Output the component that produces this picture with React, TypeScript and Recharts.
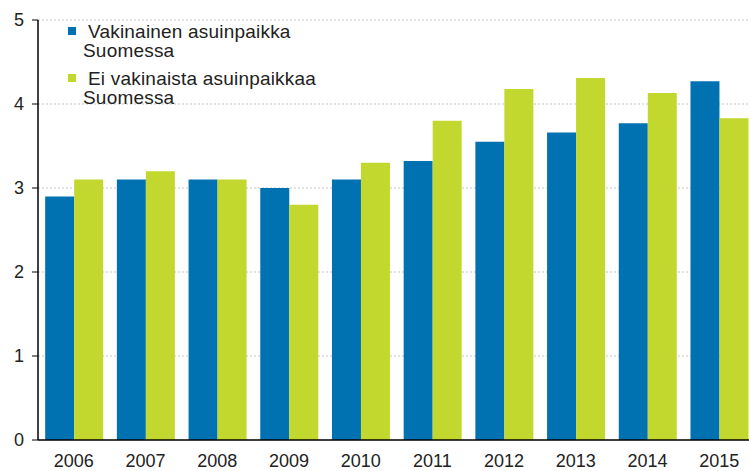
import React from "react";
import { BarChart, Bar, XAxis, YAxis, CartesianGrid } from "recharts";

const years = ["2006", "2007", "2008", "2009", "2010", "2011", "2012", "2013", "2014", "2015"];
const permanent = [2.9, 3.1, 3.1, 3.0, 3.1, 3.32, 3.55, 3.66, 3.77, 4.27];
const nonPermanent = [3.1, 3.2, 3.1, 2.8, 3.3, 3.8, 4.18, 4.31, 4.13, 3.83];
const yTicks = [0, 1, 2, 3, 4, 5];
const seriesNames = ["Vakinainen asuinpaikka\nSuomessa", "Ei vakinaista asuinpaikkaa\nSuomessa"];
const colors = ["#0072b1", "#c2d82f"];

const data = years.map((y, i) => ({ year: y, a: permanent[i], b: nonPermanent[i] }));

const FONT = "'Liberation Sans', Arial, sans-serif";

const LegendBox = () => (
  <div
    style={{
      position: "absolute",
      left: 68,
      top: 22,
      fontFamily: FONT,
      fontSize: 19,
      letterSpacing: 0.2,
      color: "#222",
      lineHeight: "19px",
      pointerEvents: "none",
    }}
  >
    {seriesNames.map((n, i) => (
      <div key={i} style={{ position: "relative", paddingLeft: 20, marginBottom: i === 0 ? 9 : 0 }}>
        <span
          style={{
            position: "absolute",
            left: 0,
            top: 5,
            width: 8,
            height: 8,
            background: colors[i],
          }}
        />
        {n.split("\n").map((line, j) => (
          <div key={j} style={{ marginLeft: j === 0 ? 0 : -5 }}>{line}</div>
        ))}
      </div>
    ))}
  </div>
);

export default function App() {
  return (
    <div style={{ position: "absolute", left: 0, top: 0, width: 749, height: 471, overflow: "hidden", background: "#fff" }}>
      <BarChart
        width={755}
        height={471}
        data={data}
        margin={{ top: 20, right: 0, bottom: 0, left: 0 }}
        barCategoryGap="10%"
        barGap={0}
      >
        <CartesianGrid vertical={false} stroke="#c4c4c4" strokeDasharray="2 2" />
        <XAxis
          dataKey="year"
          height={31}
          tickLine={false}
          tickSize={0}
          tickMargin={14}
          axisLine={{ stroke: "#000", strokeWidth: 1.5 }}
          tick={{ fill: "#222", fontSize: 18, fontFamily: FONT }}
          interval={0}
        />
        <YAxis
          width={38}
          domain={[0, 5]}
          ticks={yTicks}
          tickSize={6}
          tickMargin={8}
          tickLine={{ stroke: "#000" }}
          axisLine={{ stroke: "#000", strokeWidth: 1.5 }}
          tick={{ fill: "#222", fontSize: 18, fontFamily: FONT }}
        />
        <Bar dataKey="a" fill={colors[0]} isAnimationActive={false} />
        <Bar dataKey="b" fill={colors[1]} isAnimationActive={false} />
      </BarChart>
      <LegendBox />
    </div>
  );
}
